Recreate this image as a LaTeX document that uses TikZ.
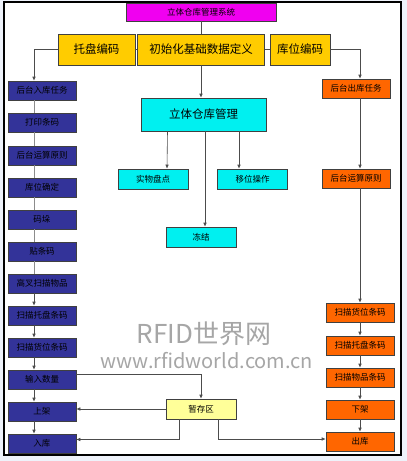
\documentclass[tikz,border=0pt]{standalone}
\usepackage{fontspec}
\newfontfamily\cjk{Noto Sans CJK SC}
\usetikzlibrary{arrows.meta}
\definecolor{sysmag}{HTML}{F000F0}
\definecolor{inityel}{HTML}{FFCC00}
\definecolor{mgcyan}{HTML}{00F0F0}
\definecolor{inblue}{HTML}{333399}
\definecolor{outorg}{HTML}{FF6600}
\definecolor{tmpyel}{HTML}{FFFF99}
\definecolor{pagebg}{HTML}{EEF2FA}
\begin{document}
\begin{tikzpicture}[x=1pt, y=-1pt,
  box/.style={draw=black!75, line width=0.6pt, inner sep=0pt, font=\cjk\fontsize{8.5}{9}\selectfont},
  big/.style={box, font=\cjk\fontsize{11.5}{12}\selectfont},
  inbox/.style={box, fill=inblue, minimum width=68pt, minimum height=19pt},
  outbox/.style={box, fill=outorg, minimum width=68pt, minimum height=19pt},
  mgbox/.style={box, fill=mgcyan, minimum width=70pt, minimum height=20pt},
  ln/.style={draw=black!70, line width=0.6pt},
  arr/.style={ln, -{Latex[length=4pt, width=3.5pt]}}]

% Page and frame
\useasboundingbox (0,0) rectangle (407,461);
\fill[pagebg] (0,0) rectangle (407,461);
\draw[fill=white, line width=1.6pt] (4,2) rectangle (401,455);

% Watermark
\node[text=black!35, font=\cjk\fontsize{26}{28}\selectfont] (wm1) at (204,334) {RFID世界网};
\node[text=black!35, font=\cjk\fontsize{20}{22}\selectfont] (wm2) at (207,361) {www.rfidworld.com.cn};

% Top row
\node[box, fill=sysmag, minimum width=150pt, minimum height=18pt] (sys) at (201,12) {立体仓库管理系统};
\node[big, fill=inityel, minimum width=77pt, minimum height=31pt] (tuopan) at (96.5,49.5) {托盘编码};
\node[big, fill=inityel, minimum width=127pt, minimum height=31pt] (init) at (201,49.5) {初始化基础数据定义};
\node[big, fill=inityel, minimum width=60pt, minimum height=31pt] (kuwei) at (300,49.5) {库位编码};

% Middle branch
\node[big, fill=mgcyan, minimum width=125pt, minimum height=33pt] (manage) at (203.5,114.5) {立体仓库管理};
\node[mgbox] (pandian) at (153,179) {实物盘点};
\node[mgbox] (yiwei) at (252.5,179) {移位操作};
\node[mgbox] (dongjie) at (201,237) {冻结};
\node[box, fill=tmpyel, minimum width=70pt, minimum height=20pt] (zancun) at (201,409) {暂存区};

% Left column (in)
\node[inbox] (in1) at (42,90.5) {后台入库任务};
\node[inbox] (in2) at (42,122.5) {打印条码};
\node[inbox] (in3) at (42,155.5) {后台运算原则};
\node[inbox] (in4) at (42,187.5) {库位确定};
\node[inbox] (in5) at (42,219.5) {码垛};
\node[inbox] (in6) at (42,251.5) {贴条码};
\node[inbox] (in7) at (42,283.5) {高叉扫描物品};
\node[inbox] (in8) at (42,315.5) {扫描托盘条码};
\node[inbox] (in9) at (42,347.5) {扫描货位条码};
\node[inbox] (in10) at (42,379.5) {输入数量};
\node[inbox] (in11) at (42,411.5) {上架};
\node[inbox] (in12) at (42,443.5) {入库};

% Right column (out)
\node[outbox] (out1) at (356,88.5) {后台出库任务};
\node[outbox] (out2) at (356,178.5) {后台运算原则};
\node[outbox] (out3) at (360,312.5) {扫描货位条码};
\node[outbox] (out4) at (360,345.5) {扫描托盘条码};
\node[outbox] (out5) at (360,377.5) {扫描物品条码};
\node[outbox] (out6) at (360,409.5) {下架};
\node[outbox] (out7) at (360,441.5) {出库};

% Top connectors
\draw[ln] (sys) -- (init);
\draw[ln] (tuopan) -- (init);
\draw[ln] (init) -- (kuwei);
\draw[arr] (tuopan.west) -| ([xshift=-8pt]in1.north);
\draw[arr] (kuwei.east) -| ([xshift=4pt]out1.north);
\draw[arr] (init.south) -- (init.south |- manage.north);

% Middle connectors
\draw[arr] ([xshift=-36pt]manage.south) -- ([xshift=14pt]pandian.north);
\draw[arr] ([xshift=1.5pt]manage.south) -- ([xshift=4pt]dongjie.north);
\draw[arr] ([xshift=35.5pt]manage.south) -- ([xshift=-13.5pt]yiwei.north);

% Left column connectors
\foreach \a/\b in {in1/in2, in2/in3, in3/in4, in4/in5, in5/in6, in6/in7}
  \draw[ln, draw=black!45, line width=1pt] ([xshift=-8pt]\a.south) -- ([xshift=-8pt]\b.north);
\foreach \a/\b in {in7/in8, in8/in9, in9/in10, in10/in11, in11/in12}
  \draw[arr] ([xshift=-8pt]\a.south) -- ([xshift=-8pt]\b.north);

% Right column connectors
\draw[arr] ([xshift=4pt]out1.south) -- ([xshift=4pt]out2.north);
\draw[arr] ([xshift=4pt]out2.south) -- (out3.north);
\foreach \a/\b in {out3/out4, out4/out5, out5/out6, out6/out7}
  \draw[arr] (\a) -- (\b);

% Buffer area
\draw[arr] ([yshift=5.5pt]in10.east) -| (zancun.north);
\draw[arr] (zancun.west) -- (zancun.west -| in11.east);
\draw[arr] ([xshift=-22pt]zancun.south) |- ([yshift=4pt]in12.east);
\draw[arr] ([xshift=17pt]zancun.south) |- ([yshift=2.5pt]out7.west);

\end{tikzpicture}
\end{document}
